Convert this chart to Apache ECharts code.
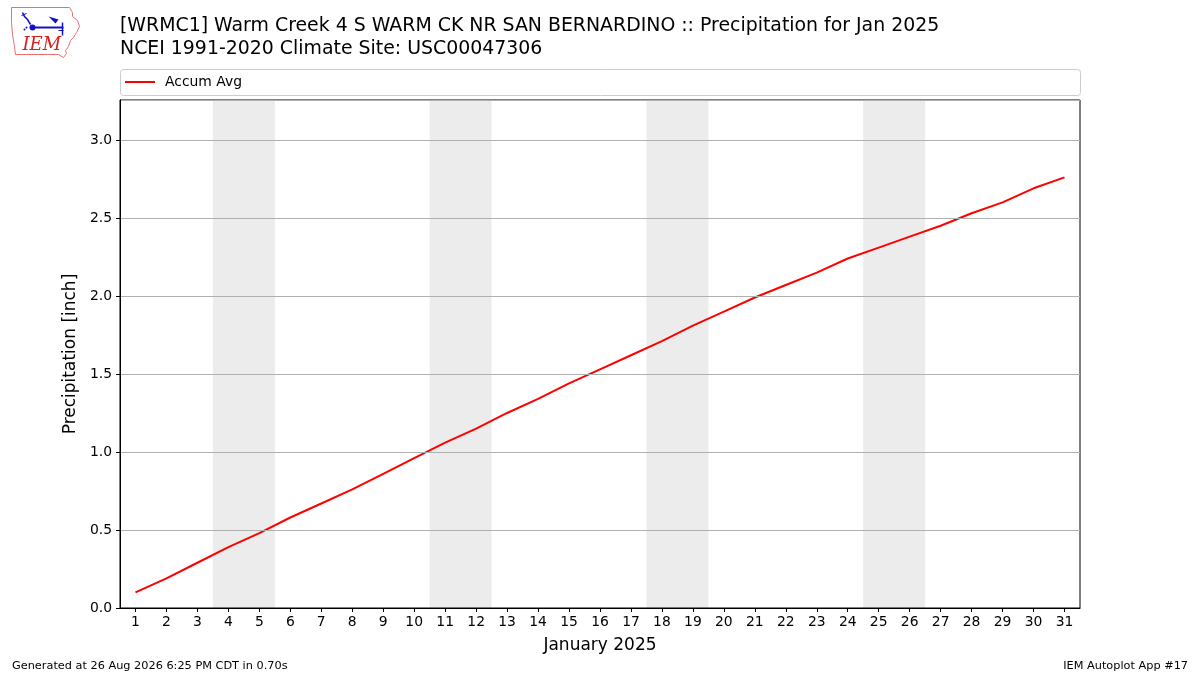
<!DOCTYPE html>
<html>
<head>
<meta charset="utf-8">
<script src="https://cdn.jsdelivr.net/npm/echarts@6/dist/echarts.min.js"></script>
<style>
  html, body { margin: 0; padding: 0; background: #fff; }
  #chart { width: 1200px; height: 675px; }
</style>
</head>
<body>
<div id="chart"></div>
<script>
// data
var days = [];
for (var d = 1; d <= 31; d++) days.push(d);
var accumAvg = [0.10, 0.19, 0.29, 0.39, 0.48, 0.58, 0.67, 0.76, 0.86, 0.96,
                1.06, 1.15, 1.25, 1.34, 1.44, 1.53, 1.62, 1.71, 1.81, 1.90,
                1.99, 2.07, 2.15, 2.24, 2.31, 2.38, 2.45, 2.53, 2.60, 2.69, 2.76];
// weekends (sat-sun) shaded
var weekends = [[4, 5], [11, 12], [18, 19], [25, 26]];

var font = 'DejaVu Sans';

var seriesData = days.map(function (d, i) { return [d, accumAvg[i]]; });
var shade = weekends.map(function (w) {
    return [{ xAxis: w[0] - 0.5 }, { xAxis: w[1] + 0.5 }];
});

var chart = echarts.init(document.getElementById('chart'));

var option = {
    animation: false,
    backgroundColor: '#fff',
    textStyle: { fontFamily: font },
    title: [
        {
            text: '[WRMC1] Warm Creek 4 S WARM CK NR SAN BERNARDINO :: Precipitation for Jan 2025\nNCEI 1991-2020 Climate Site: USC00047306',
            left: 120, top: 15, padding: 0,
            textStyle: { fontFamily: font, fontSize: 18.9, fontWeight: 'normal', color: '#000', lineHeight: 23 }
        },
        {
            text: 'Generated at 26 Aug 2026 6:25 PM CDT in 0.70s',
            left: 12, top: 661, padding: 0,
            textStyle: { fontFamily: font, fontSize: 11.3, fontWeight: 'normal', color: '#000' }
        },
        {
            text: 'IEM Autoplot App #17',
            right: 12, top: 661, padding: 0,
            textStyle: { fontFamily: font, fontSize: 11.3, fontWeight: 'normal', color: '#000' }
        }
    ],
    legend: {
        left: 120, top: 70, padding: 5,
        icon: 'rect', itemWidth: 30, itemHeight: 2, itemGap: 10,
        textStyle: { fontFamily: font, fontSize: 13.9, color: '#000', padding: [0, 0, 0, 5] },
        data: ['Accum Avg']
    },
    graphic: [
        {
            type: 'rect', left: 120, top: 69, z: -1,
            shape: { width: 960, height: 26, r: 3 },
            style: { fill: '#fff', stroke: '#cccccc', lineWidth: 1 }
        },
        // rough IEM logo
        {
            type: 'group', left: 9, top: 5,
            children: [
                {
                    type: 'polyline',
                    shape: { points: [[1, 1], [59, 1], [62, 6], [62, 10], [67, 14], [69, 20], [66, 26], [63, 31], [60, 34], [58, 40], [55, 44], [56, 47], [53, 51], [48, 48], [5, 48], [4, 40], [2, 28], [1, 16], [1, 1]] },
                    style: { stroke: '#e87070', fill: null, lineWidth: 1 }
                },
                { type: 'line', shape: { x1: 22, y1: 21, x2: 53, y2: 21 }, style: { stroke: '#1010c8', lineWidth: 2 } },
                { type: 'circle', shape: { cx: 22, cy: 21, r: 3 }, style: { fill: '#1010c8' } },
                { type: 'polyline', shape: { points: [[12, 6], [14, 10], [17, 13], [20, 18]] }, style: { stroke: '#1010c8', lineWidth: 1.5, fill: null } },
                { type: 'line', shape: { x1: 11, y1: 9, x2: 16, y2: 7 }, style: { stroke: '#1010c8', lineWidth: 1 } },
                { type: 'polygon', shape: { points: [[38, 10], [48, 13], [45, 17]] }, style: { fill: '#1010c8' } },
                { type: 'line', shape: { x1: 52, y1: 16, x2: 52, y2: 29 }, style: { stroke: '#1010c8', lineWidth: 1.5 } },
                { type: 'line', shape: { x1: 48, y1: 24, x2: 53, y2: 24 }, style: { stroke: '#1010c8', lineWidth: 1 } },
                { type: 'circle', shape: { cx: 14, cy: 23, r: 1 }, style: { fill: '#1010c8' } },
                { type: 'circle', shape: { cx: 16, cy: 21, r: 1 }, style: { fill: '#1010c8' } },
                {
                    type: 'text', left: 12, top: 30,
                    style: { text: 'IEM', fill: '#d42020', font: 'italic 18px "DejaVu Serif", serif' }
                }
            ]
        }
    ],
    grid: {
        left: 120, right: 120, top: 100, bottom: 67, z: 10,
        show: true, borderColor: '#000', borderWidth: 1, backgroundColor: 'transparent'
    },
    xAxis: {
        type: 'value',
        min: 0.5, max: 31.5, z: 10,
        name: 'January 2025', nameLocation: 'middle', nameGap: 29,
        nameTextStyle: { fontFamily: font, fontSize: 17, color: '#000' },
        axisLine: { lineStyle: { color: '#000' } },
        axisTick: { show: true, length: 4, lineStyle: { color: '#000' }, customValues: days },
        axisLabel: { color: '#000', fontSize: 13.9, fontFamily: font, margin: 7, customValues: days },
        splitLine: { show: false }
    },
    yAxis: {
        type: 'value',
        min: 0, max: 3.256, interval: 0.5, z: 10,
        name: 'Precipitation [inch]', nameLocation: 'middle', nameGap: 36,
        nameTextStyle: { fontFamily: font, fontSize: 17, color: '#000' },
        axisLine: { show: true, lineStyle: { color: '#000' } },
        axisTick: { show: true, length: 4, lineStyle: { color: '#000' } },
        axisLabel: {
            color: '#000', fontSize: 13.9, fontFamily: font, margin: 8, showMaxLabel: false,
            formatter: function (v) { return v.toFixed(1); }
        },
        splitLine: { show: true, lineStyle: { color: '#b0b0b0', width: 1 } }
    },
    series: [
        {
            name: 'Accum Avg',
            type: 'line',
            data: seriesData,
            showSymbol: false,
            itemStyle: { color: '#ff0000' },
            lineStyle: { color: '#ff0000', width: 2 },
            markArea: {
                silent: true,
                itemStyle: { color: '#ececec' },
                data: shade
            },
            z: 3
        }
    ]
};

chart.setOption(option);
</script>
</body>
</html>
